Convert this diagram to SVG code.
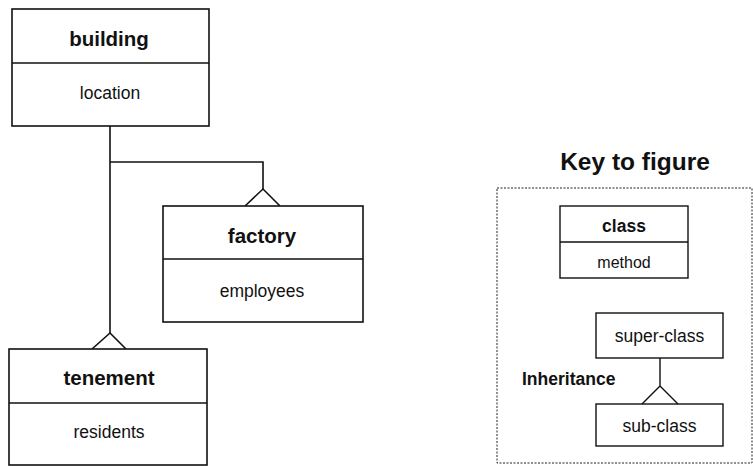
<svg xmlns="http://www.w3.org/2000/svg" width="753" height="466" viewBox="0 0 753 466">
  <style>
    .box { fill: #fff; stroke: #111; stroke-width: 1.6; }
    .line { fill: none; stroke: #111; stroke-width: 1.6; }
    .title { font-family: "Liberation Sans", Arial, sans-serif; font-weight: bold; font-size: 20.5px; fill: #111; text-anchor: middle; }
    .attr { font-family: "Liberation Sans", Arial, sans-serif; font-size: 17.5px; fill: #111; text-anchor: middle; }
    .ktitle { font-family: "Liberation Sans", Arial, sans-serif; font-weight: bold; font-size: 17.5px; fill: #111; text-anchor: middle; }
    .kattr { font-family: "Liberation Sans", Arial, sans-serif; font-size: 16px; fill: #111; text-anchor: middle; }
    .kbox { fill: #fff; stroke: #111; stroke-width: 1.4; }
  </style>
  <rect width="753" height="466" fill="#fff"/>

  <!-- inheritance connectors -->
  <g id="connectors">
    <path class="line" d="M110,126 V333"/>
    <path class="line" d="M110,162 H263 V189"/>
    <path class="line" d="M92,349 L110,333 L126,349"/>
    <path class="line" d="M245,206 L263,189 L280,206"/>
  </g>

  <g id="building">
    <rect class="box" x="12" y="9" width="197" height="117"/>
    <line class="line" x1="12" y1="63" x2="209" y2="63"/>
    <text class="title" x="109" y="46">building</text>
    <text class="attr" x="110" y="99">location</text>
  </g>

  <g id="factory">
    <rect class="box" x="163" y="206" width="200" height="116"/>
    <line class="line" x1="163" y1="259" x2="363" y2="259"/>
    <text class="title" x="262" y="243">factory</text>
    <text class="attr" x="262" y="297">employees</text>
  </g>

  <g id="tenement">
    <rect class="box" x="9" y="349" width="198" height="116"/>
    <line class="line" x1="9" y1="403" x2="207" y2="403"/>
    <text class="title" x="109" y="385">tenement</text>
    <text class="attr" x="109" y="438">residents</text>
  </g>

  <!-- legend -->
  <g id="key">
    <text class="title" x="635" y="170" style="font-size:24.5px">Key to figure</text>
    <rect x="497" y="188" width="255" height="275" fill="none" stroke="#222" stroke-width="1" stroke-dasharray="2,1.5"/>

    <g id="key-class">
      <rect class="kbox" x="560" y="206" width="128" height="72"/>
      <line class="line" x1="560" y1="242" x2="688" y2="242" style="stroke-width:1.4"/>
      <text class="ktitle" x="624" y="232">class</text>
      <text class="kattr" x="624" y="268">method</text>
    </g>

    <g id="key-superclass">
      <rect class="kbox" x="596" y="313" width="127" height="45"/>
      <text class="attr" x="659.5" y="342">super-class</text>
    </g>

    <g id="key-subclass">
      <rect class="kbox" x="596" y="404" width="127" height="42"/>
      <text class="attr" x="659.5" y="432">sub-class</text>
    </g>

    <g id="key-inheritance">
      <path class="line" d="M660,358 V386 M642,404 L660,386 L678,404" style="stroke-width:1.4"/>
      <text class="ktitle" x="522" y="385" style="text-anchor:start">Inheritance</text>
    </g>
  </g>
</svg>
